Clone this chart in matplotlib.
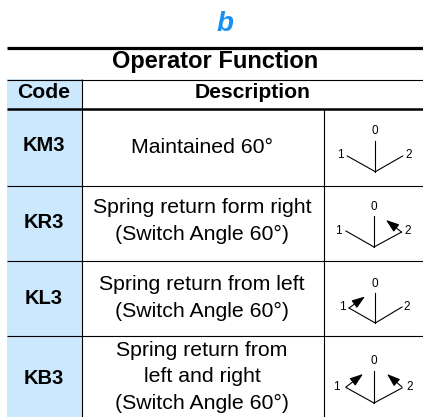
#!/usr/bin/env python3
import matplotlib.pyplot as plt

plt.rcParams['font.family'] = ['Liberation Sans', 'DejaVu Sans']

title = 'Operator Function'
headers = ['Code', 'Description']
codes = ['KM3', 'KR3', 'KL3', 'KB3']
descriptions = [
    'Maintained 60°',
    'Spring return form right\n(Switch Angle 60°)',
    'Spring return from left\n(Switch Angle 60°)',
    'Spring return from\nleft and right\n(Switch Angle 60°)',
]
row_lines = [109, 185.5, 260.5, 336, 417]
desc_y = [147.5, 221, 298, 377]
code_y = [145.5, 222.5, 299, 378]

# dial geometry per row, in pixels: pivot, tip of 0, tip of 1, tip of 2
pivots = [(375.3, 171.7), (374, 247), (375.3, 323), (374, 403)]
tips_0 = [(375.3, 140.7), (374, 216), (375.3, 293), (374, 371)]
tips_1 = [(347.3, 156), (346, 231), (349, 308), (346, 387.5)]
tips_2 = [(402.7, 156), (401.7, 232), (402, 307), (402, 388)]
labels_0 = [(375, 130.5), (374, 206.5), (375, 284), (374, 361)]
labels_1 = [(340, 155), (338, 230.5), (342, 307), (336, 386.5)]
labels_2 = [(409, 155), (408, 231), (407, 307), (410, 386.5)]
arrows = [
    [],
    [((401.5, 232), (386, 220))],
    [((349, 308), (365, 296.5))],
    [((346, 387), (363, 374)), ((402, 387), (387, 374))],
]

fig = plt.figure(figsize=(4.23, 4.17), dpi=100)
ax = fig.add_axes([0, 0, 1, 1])
ax.set_xlim(0, 423)
ax.set_ylim(417, 0)
ax.axis('off')

ax.axvspan(7, 82, ymin=0, ymax=1 - 79 / 417, color='#cce8fd', lw=0)

ax.text(225, 23.5, 'b', color='#1a90f0', fontsize=20, fontweight='bold', style='italic', ha='center', va='center')
ax.text(215.5, 61, title, fontsize=17, fontweight='bold', ha='center', va='center')
ax.text(44, 92, headers[0], fontsize=15.2, fontweight='bold', ha='center', va='center')
ax.text(253, 92, headers[1], fontsize=15.2, fontweight='bold', ha='center', va='center')

# rules
ax.plot([7, 423], [47.5, 47.5], color='k', lw=2.3, solid_capstyle='butt')
ax.plot([7, 423], [79.5, 79.5], color='k', lw=0.8, solid_capstyle='butt')
ax.plot([7, 423], [109, 109], color='k', lw=1.8, solid_capstyle='butt')
for y in row_lines[1:-1]:
    ax.plot([7, 423], [y, y], color='k', lw=0.8, solid_capstyle='butt')
ax.plot([82, 82], [79, 417], color='k', lw=0.8, solid_capstyle='butt')
ax.plot([323.5, 323.5], [109, 417], color='k', lw=0.8, solid_capstyle='butt')

for i in range(4):
    ax.text(44, code_y[i], codes[i], fontsize=14.5, fontweight='bold', ha='center', va='center')
    ax.text(202, desc_y[i], descriptions[i], fontsize=15.3, ha='center', va='center', linespacing=1.5)

    p = pivots[i]
    for tip in (tips_0[i], tips_1[i], tips_2[i]):
        ax.plot([p[0], tip[0]], [p[1], tip[1]], color='k', lw=0.8)
    for lab, pos in zip('012', (labels_0[i], labels_1[i], labels_2[i])):
        ax.text(pos[0], pos[1], lab, fontsize=8.5, ha='center', va='center')
    for start, end in arrows[i]:
        ax.annotate('', xy=end, xytext=start,
                    arrowprops=dict(arrowstyle='-|>,head_length=0.8,head_width=0.28', color='k', lw=0.8,
                                    shrinkA=0, shrinkB=0))

fig.savefig('out.png', dpi=100)
